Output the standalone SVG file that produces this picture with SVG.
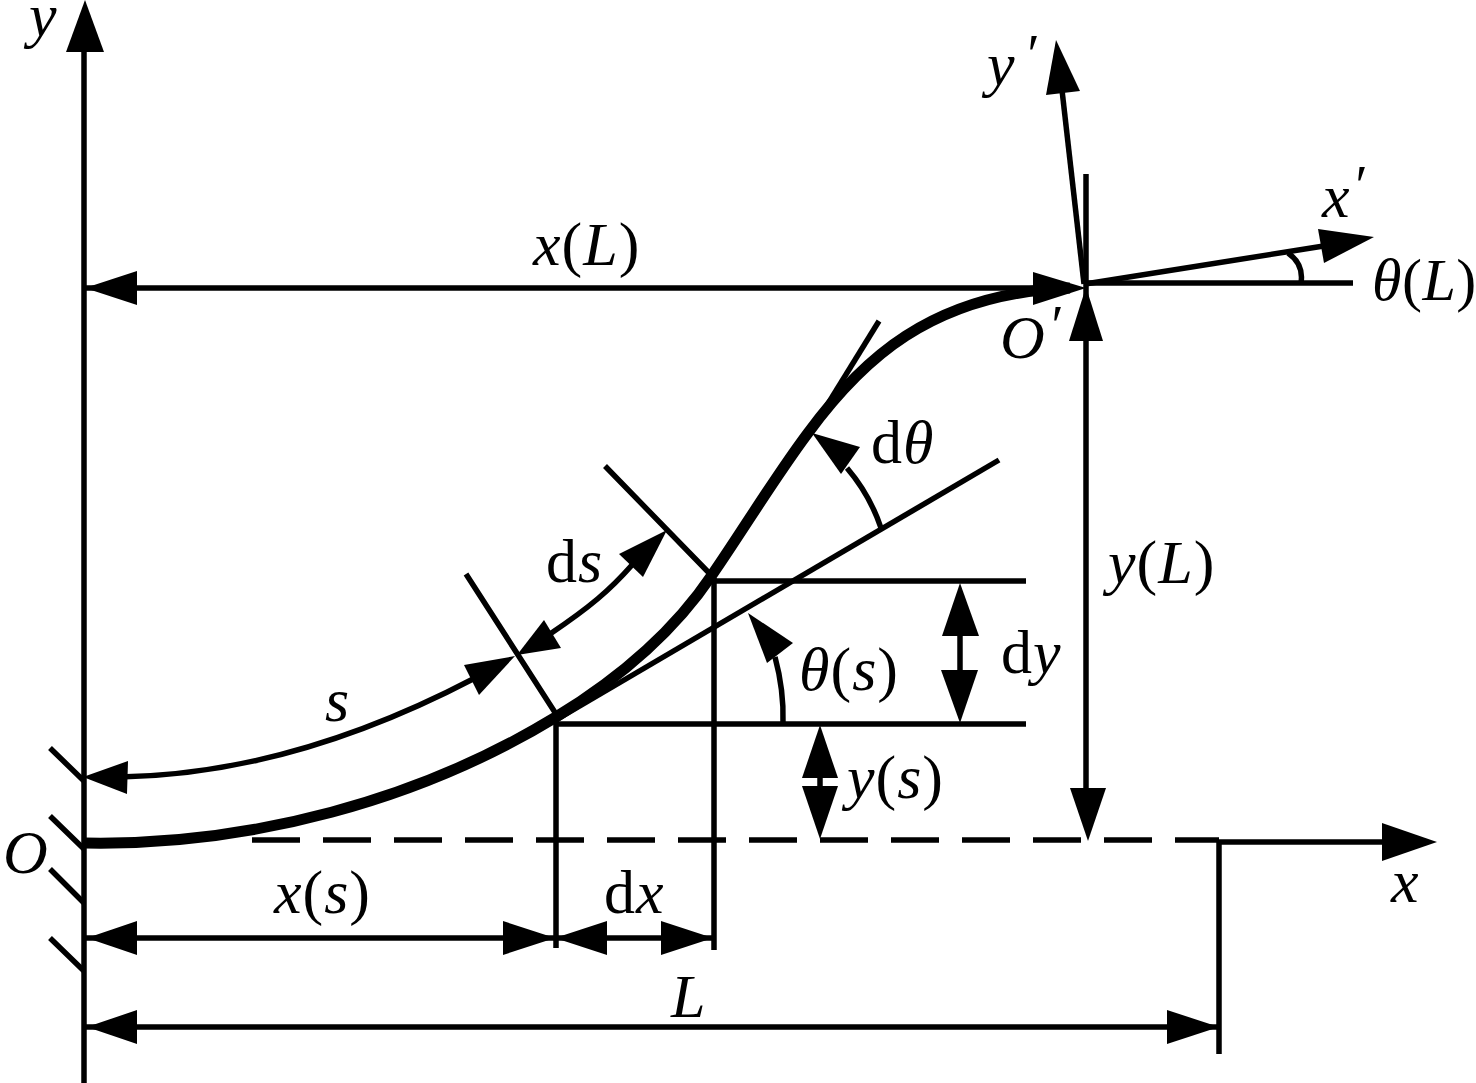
<svg xmlns="http://www.w3.org/2000/svg" width="1476" height="1083" viewBox="0 0 1476 1083">
<style>
.l{fill:none;stroke:#000;stroke-width:5.5}
.b{fill:none;stroke:#000;stroke-width:11}
.a{fill:#000;stroke:none}
text{font-family:"Liberation Serif",serif;font-size:62px;fill:#000;letter-spacing:1px}
.i{font-style:italic}
.p{font-style:italic;font-size:56px}
.t{font-size:60px;letter-spacing:.5px}
</style>
<rect width="1476" height="1083" fill="#fff"/>
<g id="connectors">
<path class="l" d="M84 40V1083"/>
<path class="a" d="M85 0L104 52H66Z"/>
<path class="l" d="M1219 842H1390"/>
<path class="l" stroke-dasharray="48 23" d="M252 840H1219"/>
<path class="a" d="M1437 842L1382 823V861Z"/>
<path class="l" d="M50 748L84 781M50 816L84 849M50 869L84 903M50 938L84 971"/>
<path class="b" d="M85 843C250 846 420 800 556 717C620 678 675 630 712 575C745 527 775 477 808 433C860 362 930 293 1070 288"/>
<path class="l" d="M85 288H1040M1085 283H1353"/>
<path class="a" d="M85 288L137 271V305Z"/>
<path class="a" d="M1086 288L1033 272V305Z"/>
<path class="l" d="M1086 174V800"/>
<path class="a" d="M1086 287L1069 341H1103Z"/>
<path class="a" d="M1088 841L1070 788H1106Z"/>
<path class="l" d="M1084 284L1062 90"/>
<path class="a" d="M1056 40L1046 95L1080 91Z"/>
<path class="l" d="M1085 284L1330 245"/>
<path class="a" d="M1374 237L1318 229L1324 263Z"/>
<path class="l" d="M1288 253Q1304 264 1301 283"/>
<path class="l" d="M813 428L879 321"/>
<path class="l" d="M556 720L999 460"/>
<path class="l" d="M605 466L712 576M466 574L556 714"/>
<path class="l" d="M712 581H1026M556 724H1026"/>
<path class="l" d="M556 720V948M714 578V950"/>
<path class="l" d="M881 528Q870 495 847 468"/>
<path class="a" d="M812 433L860 447L841 474Z"/>
<path class="l" d="M783 723Q784 690 775 657"/>
<path class="a" d="M748 613L793 643L767 663Z"/>
<path class="l" d="M960 620V690"/>
<path class="a" d="M960 583L979 636H942Z"/>
<path class="a" d="M960 723L941 670H978Z"/>
<path class="l" d="M820 760V800"/>
<path class="a" d="M820 725L838 778H802Z"/>
<path class="a" d="M820 839L802 786H838Z"/>
<path class="l" d="M120 777C250 775 370 733 475 678"/>
<path class="a" d="M83 777L128 761L127 794Z"/>
<path class="a" d="M515 656L479 695L464 665Z"/>
<path class="l" d="M550 634C590 607 610 590 632 565"/>
<path class="a" d="M517 655L544 620L561 648Z"/>
<path class="a" d="M667 530L643 577L619 554Z"/>
<path class="l" d="M85 938H713"/>
<path class="a" d="M87 938L137 921V955Z"/>
<path class="a" d="M555 938L503 921V955Z"/>
<path class="a" d="M555 938L607 921V955Z"/>
<path class="a" d="M713 938L661 921V955Z"/>
<path class="l" d="M85 1027H1219M1219 842V1054"/>
<path class="a" d="M87 1027L137 1010V1044Z"/>
<path class="a" d="M1219 1027L1167 1010V1044Z"/>
</g>
<g id="labels">
<text class="i" x="29" y="36">y</text>
<text class="i" x="3" y="873">O</text>
<text class="i" x="1391" y="902">x</text>
<text class="i" x="987" y="85">y</text><text x="1024" y="74" class="p">′</text>
<text class="i" x="1322" y="217">x</text><text x="1352" y="205" class="p">′</text>
<text x="1372" y="300" class="t"><tspan class="i">θ</tspan>(<tspan class="i">L</tspan>)</text>
<text x="533" y="265"><tspan class="i">x</tspan>(<tspan class="i">L</tspan>)</text>
<text class="i" x="1000" y="358">O</text><text x="1048" y="345" class="p">′</text>
<text x="871" y="463">d<tspan class="i">θ</tspan></text>
<text x="1108" y="583"><tspan class="i">y</tspan>(<tspan class="i">L</tspan>)</text>
<text x="546" y="582">d<tspan class="i">s</tspan></text>
<text x="799" y="690"><tspan class="i">θ</tspan>(<tspan class="i">s</tspan>)</text>
<text x="1001" y="673">d<tspan class="i">y</tspan></text>
<text class="i" x="325" y="721">s</text>
<text x="847" y="798"><tspan class="i">y</tspan>(<tspan class="i">s</tspan>)</text>
<text x="274" y="913"><tspan class="i">x</tspan>(<tspan class="i">s</tspan>)</text>
<text x="604" y="913">d<tspan class="i">x</tspan></text>
<text class="i" x="671" y="1017">L</text>
</g>
</svg>
